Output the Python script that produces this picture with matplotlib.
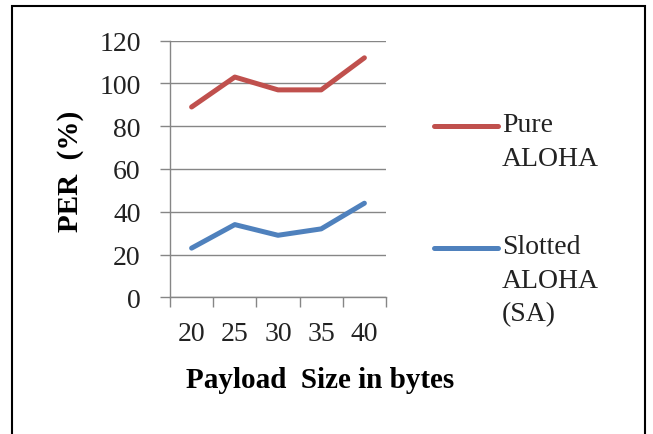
import matplotlib.pyplot as plt
from matplotlib.lines import Line2D
from matplotlib.patches import Rectangle

payload = ["20", "25", "30", "35", "40"]
pure_aloha = [89, 103, 97, 97, 112]
slotted_aloha = [23, 34, 29, 32, 44]
series_names = ["Pure\nALOHA", "Slotted\nALOHA\n(SA)"]
colors = ["#C0504D", "#4F81BD"]

plt.rcParams['font.family'] = ['Liberation Serif', 'DejaVu Serif']

W, H = 653, 435
fig = plt.figure(figsize=(W / 100, H / 100), dpi=100)

def px(x, y):
    # pixel coords (from top-left) to figure fraction
    return x / W, 1 - y / H

x0, y0 = px(170, 298.3)
x1, y1 = px(386, 41.7)
ax = fig.add_axes([x0, y0, x1 - x0, y1 - y0])

xs = range(len(payload))
ax.plot(xs, pure_aloha, color=colors[0], lw=3.6, solid_capstyle='round')
ax.plot(xs, slotted_aloha, color=colors[1], lw=3.6, solid_capstyle='round')

ax.set_xlim(-0.5, len(payload) - 0.5)
ax.set_ylim(0, 120)
ax.set_yticks(range(0, 121, 20))
ax.grid(axis='y', color='#868686', lw=1)
ax.set_axisbelow(True)

# category labels centered, tick marks at the bin edges
ax.set_xticks([i - 0.5 for i in range(len(payload) + 1)])
ax.set_xticklabels([])
ax.set_xticks(list(xs), minor=True)
ax.set_xticklabels(payload, minor=True)
ax.tick_params(axis='x', which='major', length=7, color='#868686', width=1, direction='out')
ax.tick_params(axis='x', which='minor', length=0, pad=17, labelsize=20, labelcolor='#222222')
ax.tick_params(axis='y', length=7, color='#868686', width=1, pad=14, labelsize=20,
               labelcolor='#222222')

for s in ['top', 'right']:
    ax.spines[s].set_visible(False)
for s in ['left', 'bottom']:
    ax.spines[s].set_color('#868686')
    ax.spines[s].set_linewidth(1)

fig.text(*px(320, 381), "Payload  Size in bytes", ha='center', va='center',
         fontsize=21, fontweight='bold')
fig.text(*px(71, 171), "PER  (%)", ha='center', va='center', rotation=90,
         fontsize=21, fontweight='bold')

# legend
for name, c, ly in zip(series_names, colors, [127, 249]):
    lx0, lyf = px(434, ly)
    lx1, _ = px(498, ly)
    fig.add_artist(Line2D([lx0, lx1], [lyf, lyf], color=c, lw=3.6,
                          solid_capstyle='round', transform=fig.transFigure))
    fig.text(*px(502, ly - 14), name, ha='left', va='top', fontsize=20,
             linespacing=1.45, color='#222222')

# outer frame
fx, fy = px(12, 7)
fx2, _ = px(645, 0)
fig.add_artist(Rectangle((fx, -0.05), fx2 - fx, fy + 0.05, fill=False,
                         edgecolor='black', lw=1.5, transform=fig.transFigure))

fig.savefig("out.png", dpi=100)
